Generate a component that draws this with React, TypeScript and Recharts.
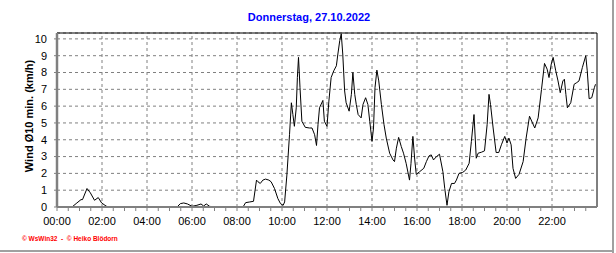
import React from 'react'
import {
  LineChart,
  Line,
  XAxis,
  YAxis,
  CartesianGrid,
  ReferenceLine,
} from 'recharts'

// wind, 10 min average
const times = [
  '00:00', '00:40', '00:53', '01:04', '01:08', '01:20', '01:29', '01:40', '01:50', '01:59',
  '02:08', '02:15', '05:20', '05:29', '05:38', '05:48', '06:00', '06:13', '06:24', '06:31',
  '06:38', '06:47', '06:58', '08:16', '08:23', '08:34', '08:44', '08:52', '08:56', '09:02',
  '09:09', '09:16', '09:25', '09:31', '09:40', '09:49', '09:56', '10:03', '10:07', '10:13',
  '10:20', '10:25', '10:29', '10:33', '10:38', '10:41', '10:44', '10:48', '10:53', '11:02',
  '11:13', '11:20', '11:27', '11:32', '11:36', '11:40', '11:49', '11:53', '12:00', '12:05',
  '12:11', '12:18', '12:25', '12:29', '12:34', '12:38', '12:42', '12:47', '12:51', '12:59',
  '13:05', '13:09', '13:14', '13:18', '13:23', '13:31', '13:36', '13:43', '13:49', '13:54',
  '14:00', '14:04', '14:08', '14:13', '14:18', '14:25', '14:32', '14:38', '14:47', '14:56',
  '15:00', '15:05', '15:11', '15:18', '15:24', '15:31', '15:40', '15:44', '15:49', '15:54',
  '15:58', '16:07', '16:18', '16:25', '16:32', '16:38', '16:44', '16:52', '17:00', '17:09',
  '17:14', '17:20', '17:25', '17:32', '17:40', '17:45', '17:52', '18:02', '18:10', '18:19',
  '18:25', '18:32', '18:38', '18:43', '18:52', '19:00', '19:07', '19:12', '19:16', '19:23',
  '19:31', '19:38', '19:45', '19:54', '20:00', '20:05', '20:11', '20:16', '20:23', '20:32',
  '20:43', '20:51', '21:00', '21:08', '21:14', '21:23', '21:32', '21:40', '21:47', '21:52',
  '21:58', '22:03', '22:10', '22:16', '22:22', '22:29', '22:33', '22:37', '22:41', '22:50',
  '22:59', '23:06', '23:12', '23:21', '23:30', '23:34', '23:39', '23:46', '23:53', '23:56',
]

const wind = [
  0, 0, 0.24, 0.44, 0.44, 1.1, 0.84, 0.4, 0.56, 0.24,
  0.1, 0, 0, 0.2, 0.24, 0.18, 0.04, 0.1, 0.18, 0.06,
  0.18, 0.04, 0, 0, 0.26, 0.3, 0.34, 1.6, 1.5, 1.4,
  1.6, 1.66, 1.6, 1.5, 1.1, 0.5, 0.2, 0.1, 0.3, 1.9,
  4.3, 6.2, 5.5, 4.8, 5.9, 7.7, 8.9, 7.1, 5.1, 4.74,
  4.7, 4.7, 4.3, 3.66, 4.9, 5.9, 6.34, 5.1, 4.8, 6.3,
  7.7, 8.1, 8.4, 9.1, 9.9, 10.3, 9.1, 6.9, 6.2, 5.7,
  6.7, 8.0, 6.7, 6.1, 5.5, 5.3, 6.1, 6.5, 6.1, 5.1,
  3.9, 4.7, 7.1, 8.14, 7.5, 6.1, 4.9, 4.1, 3.2, 2.8,
  2.7, 3.5, 4.14, 3.6, 3.2, 2.6, 1.6, 2.6, 4.2, 2.8,
  1.94, 2.1, 2.3, 2.7, 3.04, 3.1, 2.8, 3.0, 3.14, 2.1,
  1.1, 0.1, 0.9, 1.4, 1.4, 1.6, 2.0, 2.06, 2.2, 2.6,
  3.9, 5.5, 2.9, 3.2, 3.26, 3.34, 4.9, 6.7, 6.1, 4.7,
  3.24, 3.24, 3.7, 4.2, 3.8, 4.1, 3.7, 2.3, 1.7, 1.94,
  2.7, 4.1, 5.4, 5.0, 4.7, 5.3, 7.0, 8.54, 8.2, 7.7,
  8.5, 8.9, 8.1, 7.5, 6.8, 7.5, 7.6, 6.7, 5.9, 6.2,
  7.3, 7.4, 7.5, 8.3, 9.0, 8.1, 6.44, 6.5, 7.1, 7.3,
]

const hourLabels = [
  '00:00', '02:00', '04:00', '06:00', '08:00', '10:00',
  '12:00', '14:00', '16:00', '18:00', '20:00', '22:00',
]
const yTicks = [0, 1, 2, 3, 4, 5, 6, 7, 8, 9, 10]
const yTop = 10.35
const dayEnd = 1440

const toMin = (s: string) => {
  const [h, m] = s.split(':').map(Number)
  return h * 60 + m
}

const data = times.map((t, i) => ({ t: toMin(t), v: wind[i] }))
const majorTicks = hourLabels.map(toMin)
const minorTicks: number[] = []
for (let m = 0; m < dayEnd; m += 30) minorTicks.push(m)

const font = '"Liberation Sans", Arial, sans-serif'
const gray = '#808080'

export default function App() {
  return (
    <div
      style={{
        position: 'absolute',
        left: 0,
        top: 0,
        width: 616,
        height: 253,
        background: '#fff',
        fontFamily: font,
      }}
    >
      <div
        style={{
          position: 'absolute',
          left: 0,
          width: 618,
          top: 11,
          textAlign: 'center',
          color: '#0000ff',
          fontWeight: 'bold',
          fontSize: 11,
        }}
      >
        Donnerstag, 27.10.2022
      </div>
      <div
        style={{
          position: 'absolute',
          left: 29,
          top: 116,
          transform: 'translate(-50%, -50%) rotate(-90deg)',
          whiteSpace: 'nowrap',
          fontWeight: 'bold',
          fontSize: 11,
          color: '#000',
        }}
      >
        Wind Ø10 min. (km/h)
      </div>
      <div
        style={{
          position: 'absolute',
          left: 22,
          top: 235,
          color: '#ff0000',
          fontWeight: 'bold',
          fontSize: 6.5,
          whiteSpace: 'pre',
        }}
      >
        © WsWin32  -  © Heiko Blödorn
      </div>
      <div style={{ position: 'absolute', left: 612, top: 0, width: 2, height: 253, background: '#a0a0a0' }} />
      <div style={{ position: 'absolute', left: 0, top: 250, width: 614, height: 2, background: '#a0a0a0' }} />

      <LineChart
        width={616}
        height={253}
        data={data}
        margin={{ top: 33, right: 19, bottom: 16, left: 0 }}
        style={{ position: 'absolute', left: 0, top: 0 }}
      >
        <CartesianGrid vertical={false} stroke={gray} strokeDasharray='3 3' />
        {majorTicks.slice(1).map((m) => (
          <ReferenceLine key={m} x={m} stroke={gray} strokeDasharray='3 3' />
        ))}
        <XAxis
          dataKey='t'
          type='number'
          domain={[0, dayEnd]}
          ticks={minorTicks}
          interval={0}
          allowDataOverflow
          tickFormatter={(v: number) => (v % 120 === 0 ? hourLabels[v / 120] : '')}
          axisLine={{ stroke: gray, strokeWidth: 2 }}
          tickLine={{ stroke: gray }}
          tickSize={4}
          tickMargin={6}
          height={30}
          tick={{ fill: '#000', fontSize: 11, fontFamily: font }}
        />
        <YAxis
          type='number'
          domain={[0, yTop]}
          ticks={yTicks}
          interval={0}
          allowDataOverflow
          axisLine={{ stroke: gray, strokeWidth: 2.5 }}
          tickLine={{ stroke: gray }}
          tickSize={3}
          tickMargin={7}
          width={57}
          tick={{ fill: '#000', fontSize: 11, fontFamily: font }}
        />
        <ReferenceLine y={yTop} stroke='#000' />
        <ReferenceLine x={dayEnd} stroke='#000' />
        <Line
          type='linear'
          dataKey='v'
          stroke='#000'
          strokeWidth={1}
          dot={false}
          activeDot={false}
          isAnimationActive={false}
        />
      </LineChart>
    </div>
  )
}
